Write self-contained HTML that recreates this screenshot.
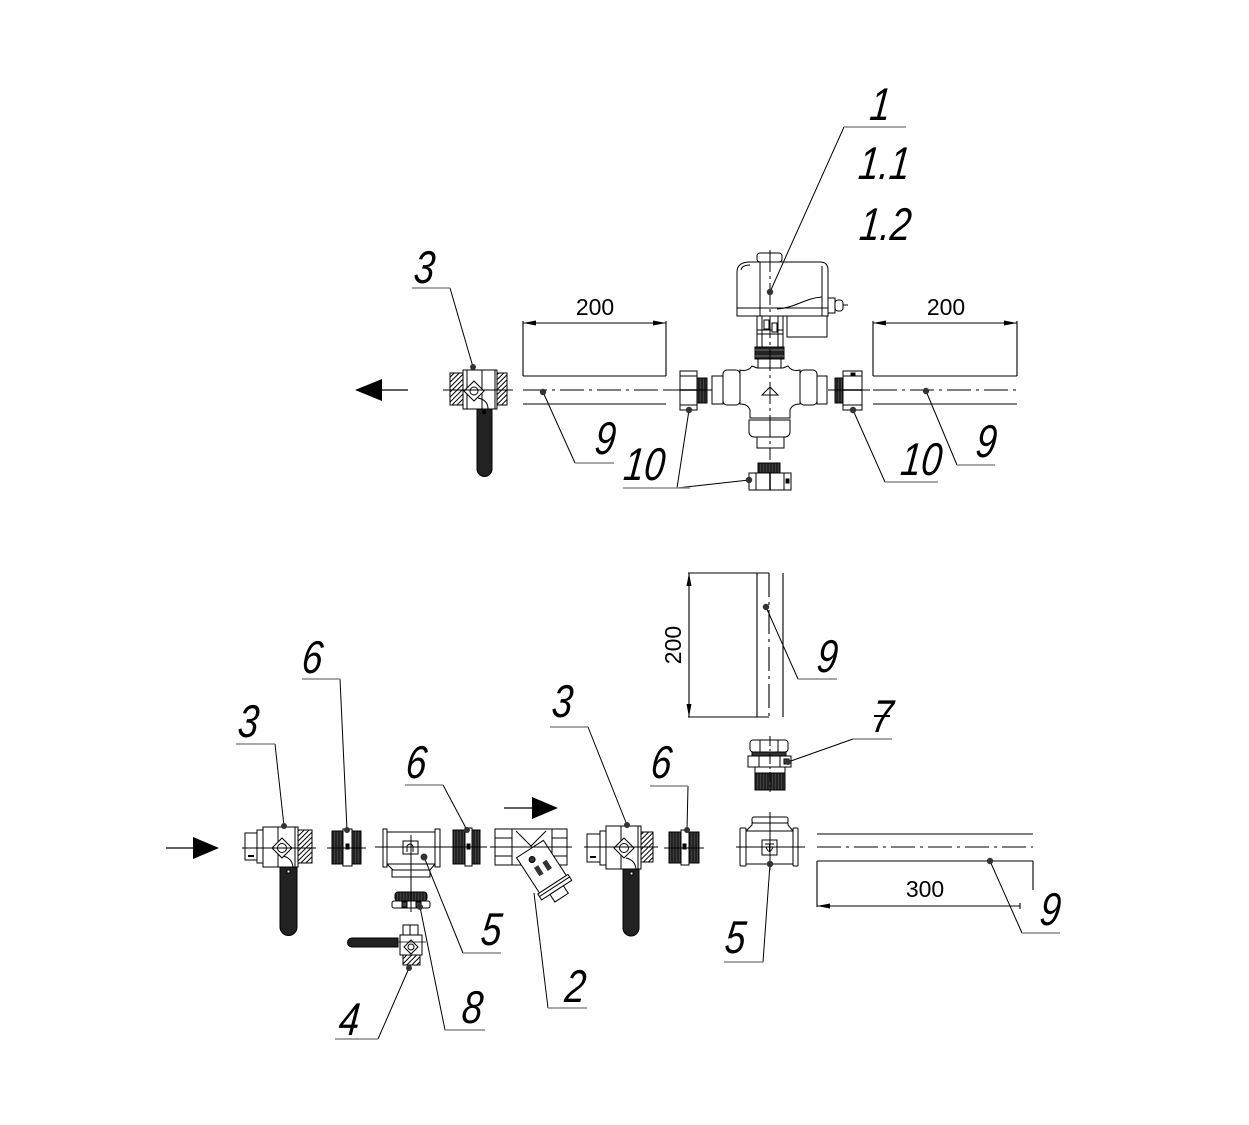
<!DOCTYPE html>
<html><head><meta charset="utf-8">
<style>
html,body{margin:0;padding:0;background:#fff;}
svg{display:block;}
.l{font-family:"Liberation Sans",sans-serif;font-style:italic;font-size:46px;fill:#000;}
.d{font-family:"Liberation Sans",sans-serif;font-size:23px;fill:#000;}
</style></head><body>
<svg width="1249" height="1125" viewBox="0 0 1249 1125" xmlns="http://www.w3.org/2000/svg">
<defs>
<pattern id="h" width="3.5" height="3.5" patternUnits="userSpaceOnUse" patternTransform="rotate(45)"><rect width="3.5" height="3.5" fill="#fff"/><line x1="0" y1="0" x2="0" y2="3.5" stroke="#000" stroke-width="2"/></pattern>
<pattern id="t" width="3" height="3" patternUnits="userSpaceOnUse"><rect width="3" height="3" fill="#222"/><line x1="1.5" y1="0" x2="1.5" y2="3" stroke="#555" stroke-width="0.6"/></pattern>
</defs>
<rect width="1249" height="1125" fill="#fff"/>

<!-- ============ TOP ASSEMBLY ============ -->
<line x1="382" y1="390" x2="408" y2="390" stroke="#000" stroke-width="1.2"/>
<polygon points="355,390 382,379 382,401" fill="#000"/>

<!-- top ball valve 3 -->
<g stroke="#000" stroke-width="1" fill="#fff">
<path d="M477 407 h15 v62 a7.5 7.5 0 0 1 -15 0 z" fill="#222"/>
<rect x="450" y="373" width="13" height="32" fill="url(#h)"/>
<rect x="497" y="373" width="10" height="32" fill="url(#h)"/>
<rect x="463" y="370" width="34" height="39"/>
<line x1="467" y1="370" x2="467" y2="409"/>
<line x1="482" y1="370" x2="482" y2="409"/>
<line x1="495" y1="370" x2="495" y2="409"/>
<path d="M478 398 Q488 400 488 409" fill="none"/>
<polygon points="474,381 484,391 474,401 464,391"/>
<circle cx="474" cy="391" r="4"/>
<circle cx="484" cy="412" r="1.5" fill="#000"/>
</g>
<line x1="443" y1="390" x2="513" y2="390" stroke="#000" stroke-width="1"/>

<!-- top-left pipe 9 + dim -->
<g stroke="#000" stroke-width="1.1" fill="none">
<line x1="523" y1="376" x2="666" y2="376"/>
<line x1="523" y1="404" x2="666" y2="404"/>
<line x1="523" y1="390" x2="666" y2="390" stroke-dasharray="24 5 3 5"/>
<line x1="523" y1="321" x2="523" y2="376"/>
<line x1="666" y1="321" x2="666" y2="376"/>
<line x1="523" y1="323" x2="666" y2="323"/>
</g>
<polygon points="523,323 536,320.5 536,325.5" fill="#000"/>
<polygon points="666,323 653,320.5 653,325.5" fill="#000"/>
<text class="d" x="595" y="315" text-anchor="middle">200</text>

<!-- top-right pipe 9 + dim -->
<g stroke="#000" stroke-width="1.1" fill="none">
<line x1="873" y1="376" x2="1017" y2="376"/>
<line x1="873" y1="404" x2="1017" y2="404"/>
<line x1="873" y1="390" x2="1017" y2="390" stroke-dasharray="24 5 3 5"/>
<line x1="873" y1="321" x2="873" y2="376"/>
<line x1="1017" y1="321" x2="1017" y2="376"/>
<line x1="873" y1="323" x2="1017" y2="323"/>
</g>
<polygon points="873,323 886,320.5 886,325.5" fill="#000"/>
<polygon points="1017,323 1004,320.5 1004,325.5" fill="#000"/>
<text class="d" x="946" y="315" text-anchor="middle">200</text>

<!-- left union nut 10 -->
<g stroke="#000" stroke-width="1" fill="#fff">
<rect x="697" y="378" width="10" height="25" fill="url(#t)"/>
<rect x="680" y="371" width="17" height="39"/>
<line x1="680" y1="376" x2="697" y2="376"/>
<line x1="680" y1="405" x2="697" y2="405"/>
<line x1="680" y1="390" x2="697" y2="390" stroke-width="1.6"/>
</g>
<line x1="666" y1="390" x2="712" y2="390" stroke="#000" stroke-width="1"/>

<!-- right union nut 10 -->
<g stroke="#000" stroke-width="1" fill="#fff">
<rect x="835" y="378" width="8" height="25" fill="url(#t)"/>
<rect x="843" y="371" width="19" height="39"/>
<line x1="843" y1="376" x2="862" y2="376"/>
<line x1="843" y1="405" x2="862" y2="405"/>
<line x1="843" y1="390" x2="862" y2="390" stroke-width="1.6"/>
<rect x="851" y="373" width="4" height="3" fill="#000"/>
</g>
<line x1="828" y1="390" x2="870" y2="390" stroke="#000" stroke-width="1"/>

<!-- bottom nut 10 -->
<g stroke="#000" stroke-width="1" fill="#fff">
<rect x="758" y="463" width="22" height="10" fill="url(#t)"/>
<rect x="749" y="473" width="42" height="17"/>
<line x1="756" y1="473" x2="756" y2="490"/>
<line x1="770" y1="473" x2="770" y2="490" stroke-width="1.5"/>
<line x1="784" y1="473" x2="784" y2="490"/>
<rect x="786" y="479" width="3" height="4" fill="#000"/>
</g>

<!-- motorized valve 1 -->
<g stroke="#000" stroke-width="1" fill="#fff">
<path d="M740 370 Q748 372 752 366 L757 368 L783 368 L788 366 Q792 372 800 370 L800 404 Q792 404 790 410 L790 418 L750 418 L750 410 Q748 404 740 404 Z"/>
<rect x="723" y="370" width="17" height="35" rx="4"/>
<rect x="712" y="376" width="11" height="28"/>
<rect x="800" y="370" width="17" height="35" rx="4"/>
<rect x="817" y="376" width="10" height="28"/>
<path d="M749 420 h41 v12 a5 5 0 0 1 -5 5 h-31 a5 5 0 0 1 -5 -5 z"/>
<rect x="757" y="437" width="27" height="11"/>
<polygon points="762,395 778,395 770,387"/>
<rect x="758" y="358" width="23" height="10"/>
<rect x="755" y="347" width="29" height="12" fill="#222"/>
<line x1="755" y1="350" x2="784" y2="350" stroke="#777"/>
<line x1="755" y1="356" x2="784" y2="356" stroke="#777"/>
<rect x="757" y="316" width="26" height="31"/>
<line x1="762" y1="316" x2="762" y2="347"/>
<line x1="778" y1="316" x2="778" y2="347"/>
<line x1="757" y1="330" x2="783" y2="330"/>
<line x1="757" y1="334" x2="783" y2="334"/>
<rect x="764" y="320" width="5" height="9"/>
<rect x="772" y="323" width="5" height="9"/>
<rect x="787" y="316" width="40" height="21"/>
<line x1="789" y1="337" x2="825" y2="337"/>
<rect x="757" y="253" width="25" height="9" rx="3"/>
<path d="M737 316 L737 272 Q737 262 750 262 L820 262 Q828 262 828 270 L828 316 Z"/>
<line x1="760" y1="262" x2="760" y2="316"/>
<line x1="822" y1="266" x2="822" y2="316"/>
<line x1="737" y1="308" x2="828" y2="308"/>
<path d="M741 270 Q742 265 750 265" fill="none"/>
<path d="M777 309 C795 308 805 298 822 297" fill="none"/>
<rect x="828" y="298" width="7" height="15"/>
<rect x="835" y="300" width="8" height="11" rx="3"/>
<line x1="843" y1="305" x2="848" y2="305"/>
</g>
<line x1="770" y1="250" x2="770" y2="460" stroke="#000" stroke-width="1" stroke-dasharray="22 4 3 4"/>

<!-- ============ BOTTOM ASSEMBLY ============ -->
<line x1="166" y1="848" x2="194" y2="848" stroke="#000" stroke-width="1.2"/>
<polygon points="219,848 193,837 193,859" fill="#000"/>
<line x1="504" y1="808" x2="532" y2="808" stroke="#000" stroke-width="1.2"/>
<polygon points="558,808 532,797 532,819" fill="#000"/>

<!-- bottom-left ball valve 3 -->
<g stroke="#000" stroke-width="1" fill="#fff">
<path d="M280 865 h17 v62 a8.5 8.5 0 0 1 -17 0 z" fill="#222"/>
<rect x="245" y="833" width="12" height="27"/>
<rect x="257" y="830" width="6" height="33"/>
<rect x="298" y="830" width="14" height="33" fill="url(#h)"/>
<rect x="263" y="827" width="35" height="40"/>
<line x1="278" y1="827" x2="278" y2="867"/>
<line x1="295" y1="827" x2="295" y2="867"/>
<path d="M283 856 Q292 858 293 867" fill="none"/>
<polygon points="282,838 292,848 282,858 272,848"/>
<circle cx="282" cy="848" r="4.5"/>
<rect x="248" y="855" width="6" height="2" fill="#000" stroke="none"/>
<rect x="287" y="870" width="3" height="3" fill="#fff"/>
</g>
<line x1="242" y1="848" x2="316" y2="848" stroke="#000" stroke-width="1"/>

<!-- coupling 6 (first) -->
<g stroke="#000" stroke-width="1">
<rect x="332" y="831" width="29" height="33" fill="url(#t)"/>
<rect x="343" y="829" width="9" height="37" fill="#fff"/>
<rect x="346" y="844" width="3" height="5" fill="#000"/>
</g>
<line x1="327" y1="848" x2="366" y2="848" stroke="#000" stroke-width="1"/>

<!-- tee 5 (left) -->
<g stroke="#000" stroke-width="1" fill="#fff">
<path d="M387 864 L393 870 L430 870 L435 864"/>
<rect x="387" y="832" width="48" height="32"/>
<rect x="383" y="829" width="4" height="38"/>
<rect x="435" y="829" width="5" height="38"/>
<rect x="392" y="870" width="38" height="7"/>
<rect x="403" y="841" width="15" height="13"/>
<path d="M407 852 L407 846 Q410 842 413 846 L413 852" fill="none"/>
</g>
<line x1="375" y1="847" x2="448" y2="847" stroke="#000" stroke-width="1"/>
<line x1="411" y1="835" x2="411" y2="890" stroke="#000" stroke-width="1"/>

<!-- coupling 6 (second) -->
<g stroke="#000" stroke-width="1">
<rect x="453" y="830" width="27" height="34" fill="url(#t)"/>
<rect x="465" y="828" width="7" height="38" fill="#fff"/>
<rect x="467" y="844" width="3" height="5" fill="#000"/>
</g>
<line x1="448" y1="847" x2="487" y2="847" stroke="#000" stroke-width="1"/>

<!-- strainer 2 -->
<g stroke="#000" stroke-width="1" fill="#fff">
<rect x="495" y="829" width="72" height="36"/>
<rect x="495" y="829" width="17" height="36"/>
<rect x="552" y="829" width="15" height="36"/>
<line x1="495" y1="838" x2="512" y2="838"/>
<line x1="495" y1="856" x2="512" y2="856"/>
<line x1="552" y1="838" x2="567" y2="838"/>
<line x1="552" y1="856" x2="567" y2="856"/>
<path d="M516 831 L531 846 L546 831" fill="none"/>
<g transform="translate(530,849) rotate(57)">
<rect x="0" y="-16" width="42" height="32"/>
<rect x="42" y="-18" width="7" height="36"/>
<line x1="45" y1="-18" x2="45" y2="18"/>
<rect x="49" y="-8" width="9" height="16"/>
<circle cx="10" cy="4" r="3" fill="#333"/>
<rect x="18" y="-8" width="10" height="5" fill="#333" stroke="none"/>
<rect x="18" y="2" width="10" height="5" fill="#333" stroke="none"/>
</g>
</g>
<line x1="490" y1="847" x2="572" y2="847" stroke="#000" stroke-width="1"/>

<!-- plug 8 -->
<g stroke="#000" stroke-width="1">
<rect x="395" y="892" width="32" height="9" rx="3" fill="url(#t)"/>
<rect x="392" y="901" width="38" height="7" rx="2" fill="#fff"/>
<rect x="402" y="902" width="5" height="5" fill="#444"/>
<rect x="416" y="902" width="5" height="5" fill="#444"/>
</g>
<line x1="411" y1="888" x2="411" y2="912" stroke="#000" stroke-width="1"/>

<!-- drain valve 4 -->
<g stroke="#000" stroke-width="1" fill="#fff">
<path d="M398 938 L352 938 a4.5 4.5 0 0 0 0 9 L398 947 Z" fill="#222"/>
<rect x="403" y="925" width="15" height="10"/>
<line x1="410" y1="925" x2="410" y2="935"/>
<rect x="400" y="935" width="22" height="20"/>
<rect x="403" y="955" width="17" height="10" fill="url(#h)"/>
<polygon points="411,940 418,947 411,954 404,947"/>
<circle cx="411" cy="947" r="3"/>
</g>
<line x1="398" y1="942" x2="426" y2="942" stroke="#000" stroke-width="0.8"/>

<!-- middle ball valve 3 -->
<g stroke="#000" stroke-width="1" fill="#fff">
<path d="M623 867 h16 v61 a8 8 0 0 1 -16 0 z" fill="#222"/>
<rect x="587" y="834" width="13" height="28"/>
<rect x="600" y="831" width="6" height="34"/>
<rect x="641" y="832" width="12" height="30" fill="url(#h)"/>
<rect x="606" y="826" width="35" height="43"/>
<line x1="621" y1="826" x2="621" y2="869"/>
<line x1="638" y1="826" x2="638" y2="869"/>
<path d="M626 858 Q635 860 636 869" fill="none"/>
<polygon points="624,838 634,848 624,858 614,848"/>
<circle cx="624" cy="848" r="4.5"/>
<rect x="590" y="856" width="6" height="2" fill="#000" stroke="none"/>
<rect x="630" y="872" width="3" height="3" fill="#fff"/>
</g>
<line x1="584" y1="847" x2="658" y2="847" stroke="#000" stroke-width="1"/>

<!-- coupling 6 (third) -->
<g stroke="#000" stroke-width="1">
<rect x="669" y="832" width="30" height="31" fill="url(#t)"/>
<rect x="681" y="830" width="8" height="35" fill="#fff"/>
<rect x="683" y="844" width="3" height="5" fill="#000"/>
</g>
<line x1="664" y1="848" x2="704" y2="848" stroke="#000" stroke-width="1"/>

<!-- vertical pipe 9 + dim -->
<g stroke="#000" stroke-width="1.1" fill="none">
<line x1="757" y1="573" x2="757" y2="717"/>
<line x1="783" y1="573" x2="783" y2="717"/>
<line x1="769" y1="573" x2="769" y2="717" stroke-dasharray="24 5 3 5"/>
<line x1="688" y1="573" x2="769" y2="573"/>
<line x1="688" y1="717" x2="769" y2="717"/>
<line x1="689" y1="573" x2="689" y2="717"/>
</g>
<polygon points="689,573 686.5,586 691.5,586" fill="#000"/>
<polygon points="689,717 686.5,704 691.5,704" fill="#000"/>
<text class="d" transform="translate(681,645) rotate(-90)" text-anchor="middle">200</text>

<!-- nipple 7 -->
<g stroke="#000" stroke-width="1" fill="#fff">
<rect x="755" y="767" width="30" height="23"/>
<rect x="755" y="773" width="30" height="17" fill="url(#t)"/>
<rect x="750" y="740" width="38" height="12" rx="3"/>
<line x1="760" y1="740" x2="760" y2="752"/>
<line x1="778" y1="740" x2="778" y2="752"/>
<rect x="752" y="752" width="34" height="4" fill="#333"/>
<rect x="748" y="756" width="43" height="11"/>
<line x1="759" y1="756" x2="759" y2="767"/>
<line x1="780" y1="756" x2="780" y2="767"/>
<rect x="784" y="759" width="5" height="5" fill="#555"/>
</g>
<line x1="770" y1="736" x2="770" y2="792" stroke="#000" stroke-width="1" stroke-dasharray="10 3 2 3"/>

<!-- tee 5 (right) -->
<g stroke="#000" stroke-width="1" fill="#fff">
<path d="M746 831 L752 825 L752 823 L788 823 L788 825 L793 831"/>
<rect x="752" y="817" width="36" height="6" rx="2"/>
<rect x="746" y="831" width="47" height="33"/>
<rect x="740" y="828" width="6" height="38" rx="1"/>
<rect x="793" y="828" width="5" height="38" rx="1"/>
<rect x="762" y="840" width="15" height="15"/>
<path d="M765 844 L774 844 M769.5 844 L769.5 852 M766 847 Q769.5 856 773 847" fill="none"/>
</g>
<line x1="736" y1="847" x2="805" y2="847" stroke="#000" stroke-width="1"/>
<line x1="770" y1="812" x2="770" y2="870" stroke="#000" stroke-width="1"/>

<!-- horizontal pipe 9 (bottom right) + dim -->
<g stroke="#000" stroke-width="1.1" fill="none">
<line x1="817" y1="834" x2="1033" y2="834"/>
<line x1="817" y1="847" x2="1033" y2="847" stroke-dasharray="24 5 3 5"/>
<line x1="817" y1="861" x2="1033" y2="861"/>
<line x1="817" y1="861" x2="817" y2="907"/>
<line x1="1033" y1="861" x2="1033" y2="890"/>
<line x1="817" y1="906" x2="1020" y2="906"/>
<line x1="1020" y1="903" x2="1020" y2="909"/>
</g>
<polygon points="817,906 830,903.5 830,908.5" fill="#000"/>
<text class="d" x="925" y="897" text-anchor="middle">300</text>

<!-- ============ LEADERS ============ -->
<g stroke="#000" stroke-width="1" fill="none">
<line x1="844" y1="127" x2="770" y2="292"/>
<line x1="450" y1="288" x2="473" y2="367"/>
<line x1="575" y1="463" x2="543" y2="392"/>
<line x1="677" y1="488" x2="689" y2="410"/>
<line x1="677" y1="488" x2="749" y2="480"/>
<line x1="885" y1="482" x2="853" y2="410"/>
<line x1="957" y1="465" x2="926" y2="391"/>
<line x1="340" y1="679" x2="347" y2="830"/>
<line x1="275" y1="744" x2="284" y2="826"/>
<line x1="443" y1="785" x2="467" y2="830"/>
<line x1="463" y1="953" x2="424" y2="857"/>
<line x1="445" y1="1030" x2="420" y2="907"/>
<line x1="378" y1="1039" x2="409" y2="968"/>
<line x1="548" y1="1008" x2="534" y2="893"/>
<line x1="588" y1="727" x2="627" y2="825"/>
<line x1="688" y1="786" x2="687" y2="830"/>
<line x1="798" y1="679" x2="766" y2="607"/>
<line x1="853" y1="739" x2="788" y2="762"/>
<line x1="763" y1="962" x2="770" y2="864"/>
<line x1="1022" y1="933" x2="990" y2="861"/>
</g>
<g stroke="#8a8a8a" stroke-width="1.6" fill="none">
<line x1="844" y1="127" x2="906" y2="127"/>
<line x1="412" y1="288" x2="450" y2="288"/>
<line x1="575" y1="463" x2="614" y2="463"/>
<line x1="623" y1="488" x2="690" y2="488"/>
<line x1="885" y1="482" x2="938" y2="482"/>
<line x1="957" y1="465" x2="995" y2="465"/>
<line x1="302" y1="679" x2="340" y2="679"/>
<line x1="236" y1="744" x2="275" y2="744"/>
<line x1="405" y1="785" x2="443" y2="785"/>
<line x1="463" y1="953" x2="501" y2="953"/>
<line x1="445" y1="1030" x2="485" y2="1030"/>
<line x1="335" y1="1039" x2="378" y2="1039"/>
<line x1="548" y1="1008" x2="587" y2="1008"/>
<line x1="550" y1="727" x2="588" y2="727"/>
<line x1="650" y1="786" x2="688" y2="786"/>
<line x1="798" y1="679" x2="837" y2="679"/>
<line x1="853" y1="739" x2="892" y2="739"/>
<line x1="724" y1="962" x2="763" y2="962"/>
<line x1="1022" y1="933" x2="1060" y2="933"/>
</g>
<g fill="#333">
<circle cx="770" cy="292" r="3.2"/>
<circle cx="473" cy="367" r="3"/>
<circle cx="543" cy="392" r="3.2"/>
<circle cx="689" cy="410" r="3.2"/>
<circle cx="749" cy="480" r="3.2"/>
<circle cx="853" cy="410" r="3.2"/>
<circle cx="926" cy="391" r="3.2"/>
<circle cx="347" cy="830" r="3"/>
<circle cx="284" cy="826" r="3"/>
<circle cx="467" cy="830" r="3"/>
<circle cx="424" cy="857" r="3.5"/>
<circle cx="420" cy="907" r="3"/>
<circle cx="409" cy="968" r="3"/>
<circle cx="627" cy="825" r="3"/>
<circle cx="687" cy="830" r="3"/>
<circle cx="766" cy="607" r="3.2"/>
<circle cx="788" cy="762" r="3"/>
<circle cx="770" cy="864" r="3.2"/>
<circle cx="990" cy="861" r="3.2"/>
</g>

<!-- ============ LABELS ============ -->
<g class="l" text-anchor="middle">
<text transform="translate(879,120) skewX(-6) scale(0.8,1)">1</text>
<text transform="translate(883,179) skewX(-6) scale(0.8,1)">1.1</text>
<text transform="translate(884,240) skewX(-6) scale(0.8,1)">1.2</text>
<text transform="translate(423,283) skewX(-6) scale(0.8,1)">3</text>
<text transform="translate(604,454) skewX(-6) scale(0.8,1)">9</text>
<text transform="translate(643,480) skewX(-6) scale(0.8,1)">10</text>
<text transform="translate(920,475) skewX(-6) scale(0.8,1)">10</text>
<text transform="translate(985,457) skewX(-6) scale(0.8,1)">9</text>
<text transform="translate(311,673) skewX(-6) scale(0.8,1)">6</text>
<text transform="translate(247,737) skewX(-6) scale(0.8,1)">3</text>
<text transform="translate(415,778) skewX(-6) scale(0.8,1)">6</text>
<text transform="translate(490,945) skewX(-6) scale(0.8,1)">5</text>
<text transform="translate(471,1023) skewX(-6) scale(0.8,1)">8</text>
<text transform="translate(348,1035) skewX(-6) scale(0.8,1)">4</text>
<text transform="translate(574,1002) skewX(-6) scale(0.8,1)">2</text>
<text transform="translate(561,717) skewX(-6) scale(0.8,1)">3</text>
<text transform="translate(660,778) skewX(-6) scale(0.8,1)">6</text>
<text transform="translate(826,672) skewX(-6) scale(0.8,1)">9</text>
<text transform="translate(881,732) skewX(-6) scale(0.8,1)">7</text>
<text transform="translate(734,953) skewX(-6) scale(0.8,1)">5</text>
<text transform="translate(1049,925) skewX(-6) scale(0.8,1)">9</text>
</g>
<line x1="874" y1="716" x2="890" y2="716" stroke="#000" stroke-width="2"/>
</svg>
</body></html>
